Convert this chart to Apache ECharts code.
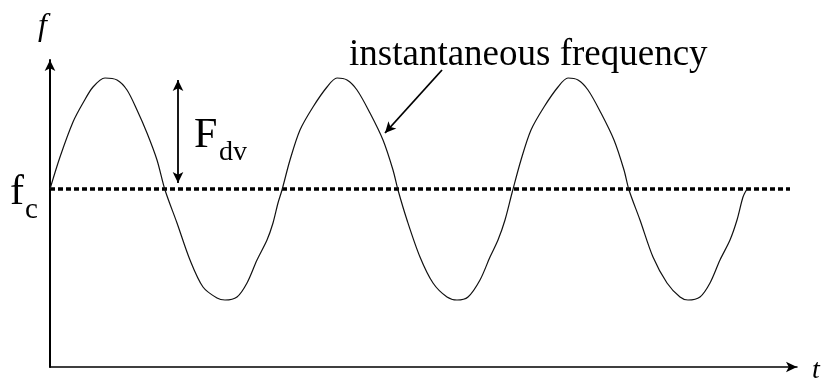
<!DOCTYPE html>
<html>
<head>
<meta charset="utf-8">
<script src="https://cdn.jsdelivr.net/npm/echarts@6/dist/echarts.min.js"></script>
<style>
  html, body { margin: 0; padding: 0; background: #fff; }
  #chart-container { width: 825px; height: 378px; }
</style>
</head>
<body>
<div id="chart-container"></div>
<script>
// instantaneous frequency (t, f relative to fc)
var waveT = [0, 10, 23, 33, 43, 55, 67, 77, 87, 97, 107, 115,
  127, 140, 153, 167, 175, 187, 197, 207, 217, 223, 228, 232,
  240, 250, 263, 277, 287, 297, 307, 320, 333, 343, 348,
  357, 370, 383, 397, 407, 418, 430, 440, 448, 455, 462,
  471, 481, 494, 508, 518, 528, 538, 551, 564, 574, 579,
  590, 603, 617, 630, 638, 650, 660, 670, 680, 687, 693, 697];
var waveF = [0, 32, 67, 86, 102, 111, 109, 99, 79, 56, 29, -1,
  -34, -71, -98, -109, -111, -108, -94, -71, -51, -34, -14, -1,
  29, 59, 82, 102, 111, 109, 99, 76, 49, 19, -1,
  -31, -68, -94, -108, -111, -108, -91, -68, -51, -31, -4,
  29, 59, 82, 102, 111, 109, 99, 76, 49, 19, -1,
  -31, -68, -94, -108, -111, -108, -94, -71, -51, -31, -8, 0];

var carrierT = [0, 740];
var carrierF = [0, 0];

// F_dv deviation arrow and the pointer to the curve
var devArrow = [[128, 109], [128, 6]];
var pointerArrow = [[392, 119], [335, 56]];

var dom = document.getElementById('chart-container');
var myChart = echarts.init(dom, null, { renderer: 'canvas' });

var serif = '"Liberation Serif", "Times New Roman", serif';

function zip(a, b) {
  return a.map(function (v, i) { return [v, b[i]]; });
}

var option = {
  animation: false,
  grid: { left: 50, right: 28, top: 60, bottom: 11 },
  xAxis: {
    type: 'value',
    min: 0,
    max: 747,
    axisLine: {
      onZero: false,
      symbol: ['none', 'arrow'],
      symbolSize: [8, 11],
      lineStyle: { color: '#000', width: 1.5 }
    },
    axisTick: { show: false },
    axisLabel: { show: false },
    splitLine: { show: false }
  },
  yAxis: {
    type: 'value',
    min: -178,
    max: 129,
    axisLine: {
      show: true,
      onZero: false,
      symbol: ['none', 'arrow'],
      symbolSize: [8, 11],
      lineStyle: { color: '#000', width: 2 }
    },
    axisTick: { show: false },
    axisLabel: { show: false },
    splitLine: { show: false }
  },
  series: [
    {
      type: 'line',
      data: zip(carrierT, carrierF),
      showSymbol: false,
      lineStyle: { color: '#000', width: 3.5, type: [5, 3] },
      markLine: {
        silent: true,
        symbolSize: [8, 11],
        label: { show: false },
        lineStyle: { color: '#000', width: 1.8, type: 'solid' },
        data: [
          [
            { coord: devArrow[0], symbol: 'arrow' },
            { coord: devArrow[1], symbol: 'arrow' }
          ],
          [
            { coord: pointerArrow[0], symbol: 'none' },
            { coord: pointerArrow[1], symbol: 'arrow' }
          ]
        ]
      }
    },
    {
      type: 'line',
      data: zip(waveT, waveF),
      smooth: 0.3,
      showSymbol: false,
      lineStyle: { color: '#111', width: 1.2 }
    }
  ],
  graphic: [
    { type: 'text', left: 38, top: 11, style: { text: 'f', font: 'italic 32px ' + serif, fill: '#000' } },
    { type: 'text', left: 812, top: 357, style: { text: 't', font: 'italic 28px ' + serif, fill: '#000' } },
    { type: 'text', left: 349, top: 37, style: { text: 'instantaneous frequency', font: '37px ' + serif, fill: '#000' } },
    { type: 'text', left: 194, top: 115, style: { text: 'F', font: '42px ' + serif, fill: '#000' } },
    { type: 'text', left: 219, top: 139, style: { text: 'dv', font: '28px ' + serif, fill: '#000' } },
    { type: 'text', left: 10, top: 172, style: { text: 'f', font: '42px ' + serif, fill: '#000' } },
    { type: 'text', left: 25, top: 196, style: { text: 'c', font: '29px ' + serif, fill: '#000' } }
  ]
};

myChart.setOption(option);
window.addEventListener('resize', myChart.resize);
</script>
</body>
</html>
